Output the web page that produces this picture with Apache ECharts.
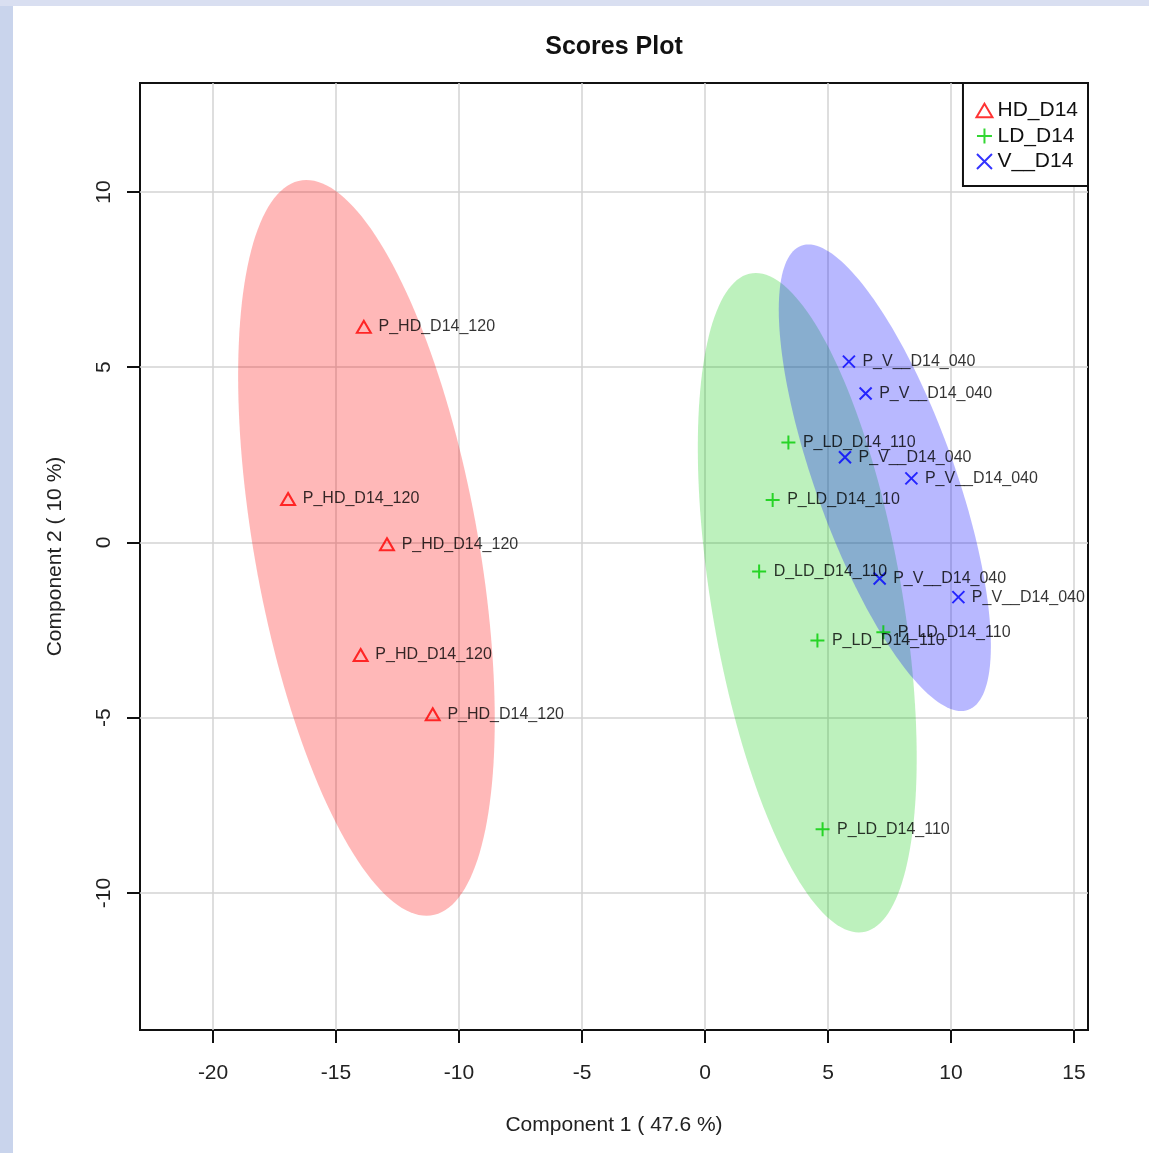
<!DOCTYPE html>
<html>
<head>
<meta charset="utf-8">
<script src="https://cdn.jsdelivr.net/npm/echarts@6/dist/echarts.min.js"></script>
<style>
html,body{margin:0;padding:0;background:#fff;}
#chart{width:1149px;height:1153px;}
</style>
</head>
<body>
<div id="chart"></div>
<script>
// ---- data ----
const groupNames = ['HD_D14', 'LD_D14', 'V__D14'];

const hdX = [-13.87, -16.95, -12.93, -14.00, -11.07];
const hdY = [6.15, 1.24, -0.05, -3.21, -4.90];
const hdLabels = ['P_HD_D14_120', 'P_HD_D14_120', 'P_HD_D14_120', 'P_HD_D14_120', 'P_HD_D14_120'];

const ldX = [3.39, 2.75, 2.20, 4.57, 7.25, 4.78];
const ldY = [2.85, 1.21, -0.83, -2.80, -2.56, -8.18];
const ldLabels = ['P_LD_D14_110', 'P_LD_D14_110', 'D_LD_D14_110', 'P_LD_D14_110', 'P_LD_D14_110', 'P_LD_D14_110'];

const vX = [5.85, 6.53, 5.69, 8.39, 7.10, 10.30];
const vY = [5.16, 4.25, 2.43, 1.83, -1.03, -1.56];
const vLabels = ['P_V__D14_040', 'P_V__D14_040', 'P_V__D14_040', 'P_V__D14_040', 'P_V__D14_040', 'P_V__D14_040'];

const xTicks = [-20, -15, -10, -5, 0, 5, 10, 15];
const yTicks = [-10, -5, 0, 5, 10];
const xRange = [-22.97, 15.57];
const yRange = [-13.91, 13.11];

// ---- helpers ----
const FONT = '"Liberation Sans", Arial, sans-serif';
const COL = { red: '#FF0000', green: '#00CD00', blue: '#0000FF' };
const FILL = { red: 'rgba(255,0,0,0.28)', green: 'rgba(0,200,0,0.26)', blue: 'rgba(0,0,255,0.28)' };

const SYM = {
  tri: 'path://M7,0L14,12L0,12Z',
  plus: 'path://M7,0L7,14M0,7L14,7',
  cross: 'path://M0,0L12,12M12,0L0,12'
};

// 95% confidence ellipse (chi-square, 2 df) from group covariance
function ellipse(xs, ys) {
  const n = xs.length;
  const mx = xs.reduce((a, b) => a + b, 0) / n;
  const my = ys.reduce((a, b) => a + b, 0) / n;
  let sxx = 0, syy = 0, sxy = 0;
  for (let i = 0; i < n; i++) {
    sxx += (xs[i] - mx) ** 2;
    syy += (ys[i] - my) ** 2;
    sxy += (xs[i] - mx) * (ys[i] - my);
  }
  sxx /= (n - 1); syy /= (n - 1); sxy /= (n - 1);
  const t = Math.sqrt(5.991464547);
  const a = Math.sqrt(sxx), b = sxy / a, c = Math.sqrt(Math.max(syy - b * b, 0));
  const pts = [];
  for (let k = 0; k < 180; k++) {
    const th = 2 * Math.PI * k / 180;
    pts.push([mx + t * a * Math.cos(th), my + t * (b * Math.cos(th) + c * Math.sin(th))]);
  }
  return { center: [mx, my], pts };
}

function ellipseSeries(xs, ys, fill) {
  const e = ellipse(xs, ys);
  return {
    type: 'custom',
    silent: true,
    z: 1,
    data: [e.center],
    encode: { x: 0, y: 1 },
    renderItem: function (params, api) {
      return {
        type: 'polygon',
        shape: { points: e.pts.map(p => api.coord(p)) },
        style: { fill: fill, stroke: null }
      };
    }
  };
}

function pointSeries(name, xs, ys, labels, symbol, size, color) {
  return {
    name: name,
    type: 'scatter',
    z: 3,
    symbol: symbol,
    symbolSize: size,
    itemStyle: { color: 'none', borderColor: color, borderWidth: 2 },
    label: {
      show: true, position: 'right', distance: 5, formatter: '{b}',
      fontSize: 16, fontFamily: FONT, color: '#000'
    },
    emphasis: { disabled: true },
    data: xs.map((x, i) => ({ value: [x, ys[i]], name: labels[i] }))
  };
}

const chart = echarts.init(document.getElementById('chart'), null, { renderer: 'canvas' });

const option = {
  backgroundColor: '#ffffff',
  animation: false,
  graphic: [
    { type: 'rect', z: -10, shape: { x: 0, y: 0, width: 13, height: 1153 }, style: { fill: '#c9d4ec' } },
    { type: 'rect', z: -10, shape: { x: 0, y: 0, width: 1149, height: 6 }, style: { fill: '#d9dff1' } },
    { type: 'text', x: 614, y: 47, style: { text: 'Scores Plot', textAlign: 'center', textVerticalAlign: 'middle', font: 'bold 25px "Liberation Sans", Arial, sans-serif', fill: '#111' } }
  ],
  grid: {
    left: 140, top: 83, right: 61, bottom: 123,
    show: true, borderColor: '#111', borderWidth: 2, backgroundColor: 'transparent'
  },
  legend: {
    orient: 'vertical',
    right: 61, top: 83,
    borderColor: '#111', borderWidth: 2,
    padding: [17, 10, 14, 11],
    itemWidth: 16, itemHeight: 15, itemGap: 4.5, itemTextGap: 16,
    selectedMode: false,
    backgroundColor: '#fff',
    textStyle: { fontSize: 21, fontFamily: FONT, color: '#111', lineHeight: 21 },
    data: [
      { name: groupNames[0], icon: SYM.tri, itemStyle: { color: 'none', borderColor: COL.red, borderWidth: 2 } },
      { name: groupNames[1], icon: SYM.plus, itemStyle: { color: 'none', borderColor: COL.green, borderWidth: 2 } },
      { name: groupNames[2], icon: SYM.cross, itemStyle: { color: 'none', borderColor: COL.blue, borderWidth: 2 } }
    ]
  },
  xAxis: {
    type: 'value', min: xRange[0], max: xRange[1],
    name: 'Component 1 ( 47.6 %)', nameLocation: 'middle', nameGap: 85,
    nameTextStyle: { fontSize: 21, fontFamily: FONT, color: '#222' },
    axisLine: { show: false, onZero: false },
    axisTick: { show: true, inside: false, length: 13, customValues: xTicks, lineStyle: { color: '#111', width: 2 } },
    axisLabel: { customValues: xTicks, margin: 33, fontSize: 21, fontFamily: FONT, color: '#222' },
    splitLine: { show: true, lineStyle: { color: '#d3d3d3', width: 1.5 } }
  },
  yAxis: {
    type: 'value', min: yRange[0], max: yRange[1],
    name: 'Component 2 ( 10 %)', nameLocation: 'middle', nameGap: 74,
    nameTextStyle: { fontSize: 21, fontFamily: FONT, color: '#222' },
    axisLine: { show: false, onZero: false },
    axisTick: { show: true, inside: false, length: 13, customValues: yTicks, lineStyle: { color: '#111', width: 2 } },
    axisLabel: { customValues: yTicks, rotate: 90, margin: 25, fontSize: 21, fontFamily: FONT, color: '#222' },
    splitLine: { show: true, lineStyle: { color: '#d3d3d3', width: 1.5 } }
  },
  series: [
    ellipseSeries(hdX, hdY, FILL.red),
    ellipseSeries(ldX, ldY, FILL.green),
    ellipseSeries(vX, vY, FILL.blue),
    pointSeries(groupNames[0], hdX, hdY, hdLabels, SYM.tri, [14, 12], COL.red),
    pointSeries(groupNames[1], ldX, ldY, ldLabels, SYM.plus, 14, COL.green),
    pointSeries(groupNames[2], vX, vY, vLabels, SYM.cross, 12, COL.blue)
  ]
};

chart.setOption(option);
</script>
</body>
</html>
